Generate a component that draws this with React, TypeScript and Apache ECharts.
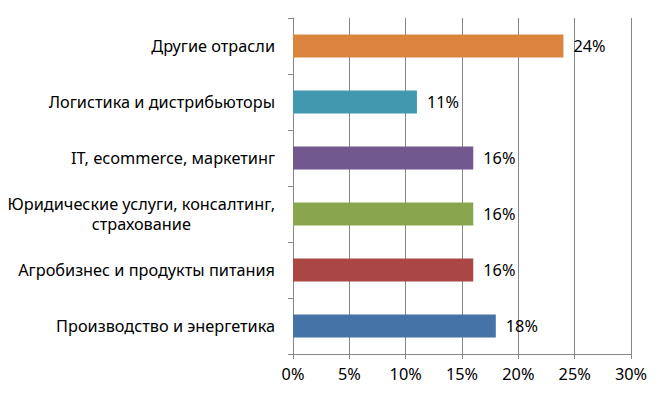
import React, { useEffect, useRef } from "react";
import * as echarts from "echarts";

const categories = [
  "Производство и энергетика",
  "Агробизнес и продукты питания",
  "Юридические услуги, консалтинг,\nстрахование",
  "IT, ecommerce, маркетинг",
  "Логистика и дистрибьюторы",
  "Другие отрасли",
];
const values = [18, 16, 16, 16, 11, 24];
const colors = ["#4572A7", "#AA4643", "#89A54E", "#71588F", "#4198AF", "#DB843D"];
const xTicks = { min: 0, max: 30, interval: 5 };

export default function App() {
  const ref = useRef<HTMLDivElement>(null);
  useEffect(() => {
    if (!ref.current) return;
    const chart = echarts.init(ref.current, undefined, { renderer: "svg" });
    const font = "Noto Sans";
    const fs = 16.3;
    chart.setOption({
      animation: false,
      backgroundColor: "#ffffff",
      grid: { left: 293, right: 34, top: 18, bottom: 45, containLabel: false },
      xAxis: {
        type: "value",
        min: xTicks.min,
        max: xTicks.max,
        interval: xTicks.interval,
        axisLine: { show: true, lineStyle: { color: "#878787", width: 1 } },
        axisTick: { show: true, length: 5, lineStyle: { color: "#878787" } },
        splitLine: { show: true, lineStyle: { color: "#878787", width: 1 } },
        axisLabel: {
          formatter: (v: number) => `${v}%`,
          color: "#000",
          fontSize: fs,
          fontFamily: font,
          margin: 12,
        },
      },
      yAxis: {
        type: "category",
        data: categories,
        axisLine: { show: true, lineStyle: { color: "#878787", width: 1 } },
        axisTick: { show: true, length: 5, lineStyle: { color: "#878787" } },
        splitLine: { show: false },
        axisLabel: {
          color: "#000",
          fontSize: fs,
          fontFamily: font,
          margin: 18,
          align: "right",
          lineHeight: 20,
          formatter: (v: string) =>
            v.split("\n").map((l) => `{c|${l}}`).join("\n"),
          rich: {
            c: { align: "center", fontSize: fs, fontFamily: font, color: "#000", lineHeight: 20 },
          },
        },
      },
      series: [
        {
          type: "bar",
          data: values.map((v, i) => ({ value: v, itemStyle: { color: colors[i] } })),
          barWidth: 23,
          label: {
            show: true,
            position: "right",
            distance: 10,
            formatter: (p: any) => `${p.value}%`,
            color: "#000",
            fontSize: fs,
            fontFamily: font,
          },
        },
      ],
    });
    return () => chart.dispose();
  }, []);
  return (
    <div
      ref={ref}
      style={{ position: "absolute", left: 0, top: 0, width: 665, height: 399 }}
    />
  );
}
